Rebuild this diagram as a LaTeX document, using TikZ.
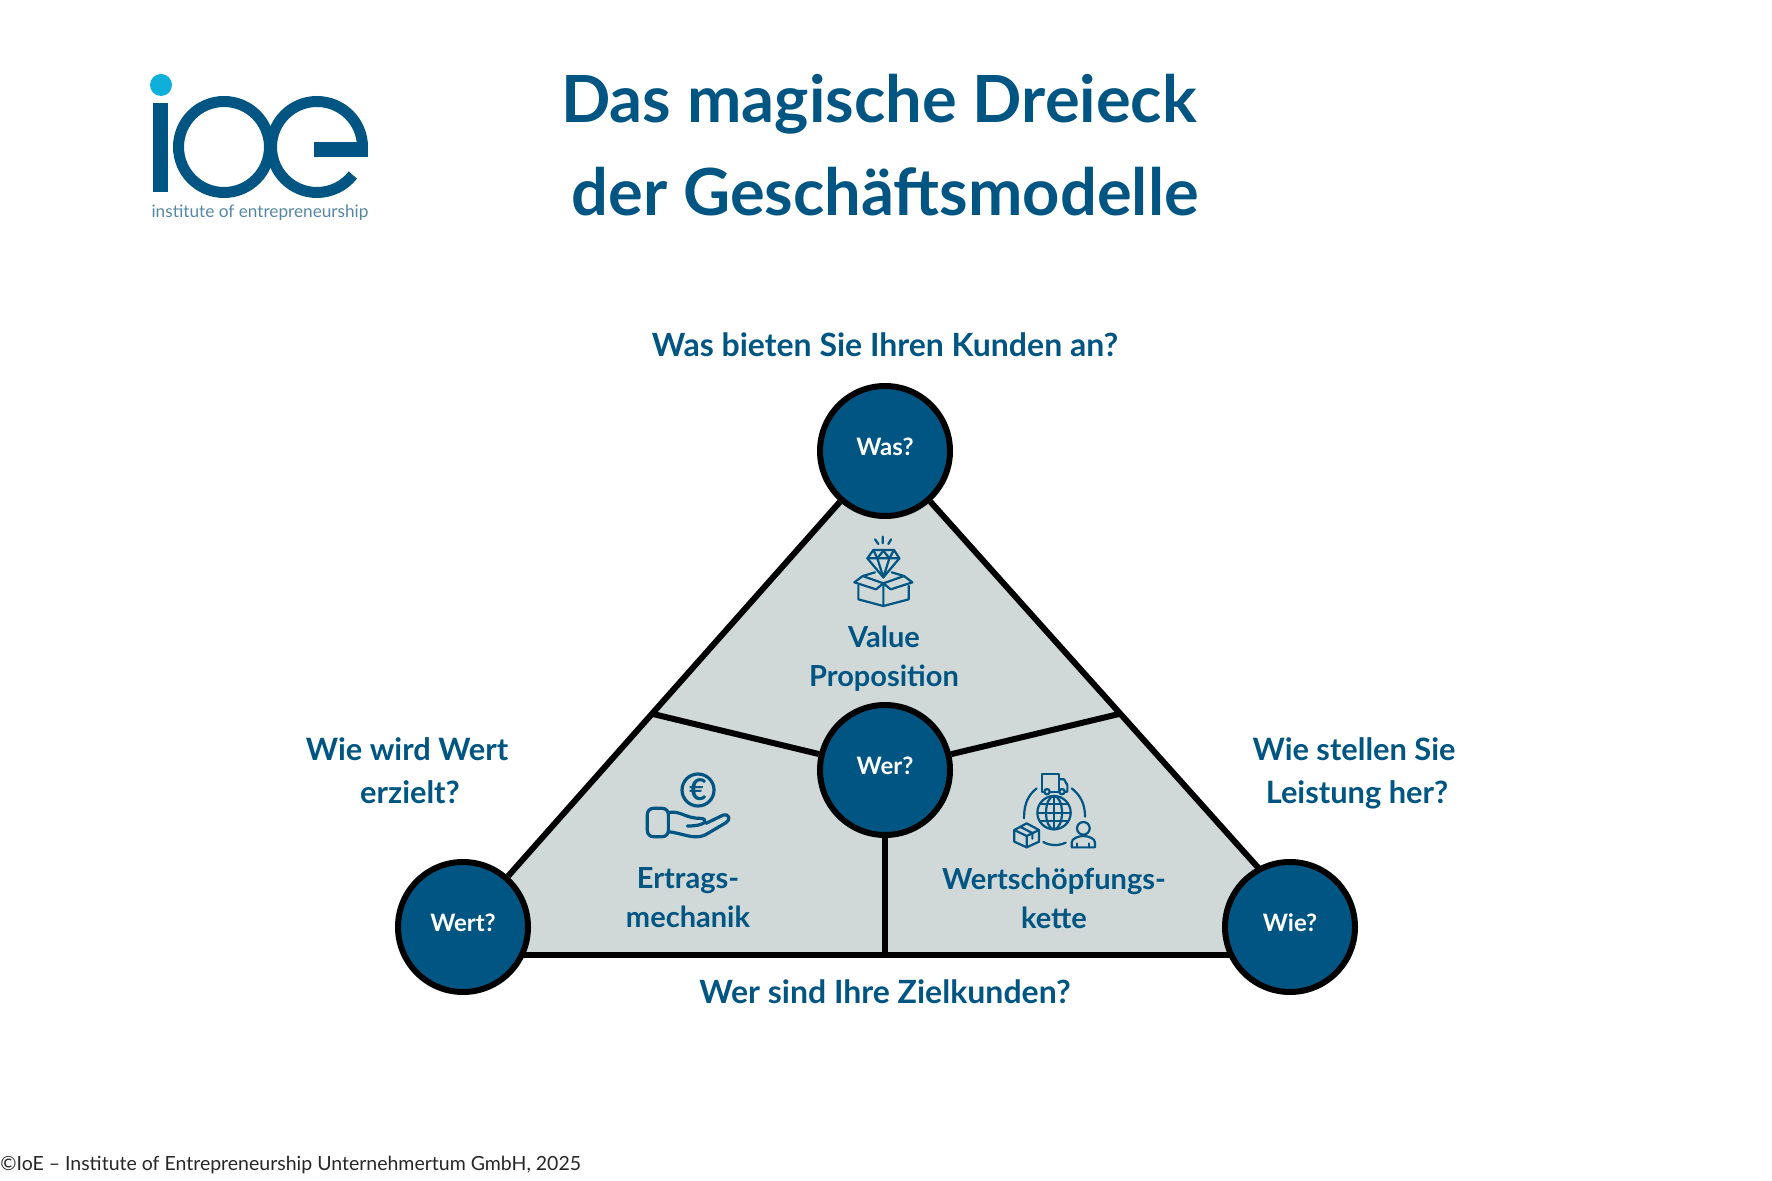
\documentclass[tikz,border=0pt]{standalone}
\usepackage{fontspec}
\setmainfont{Lato}
\usetikzlibrary{backgrounds}
\definecolor{ioeblue}{RGB}{0, 85, 130}
\definecolor{ioecyan}{RGB}{15, 175, 220}
\definecolor{ioegray}{RGB}{208, 216, 216}
\definecolor{ioelogotext}{RGB}{85, 135, 165}
\tikzset{
    titletext/.style={text=ioeblue, font=\fontsize{32.5}{33}\selectfont\bfseries},
    asktext/.style={text=ioeblue, font=\fontsize{16}{16}\selectfont\bfseries},
    sidetext/.style={text=ioeblue, font=\fontsize{15.4}{16}\selectfont\bfseries},
    fieldtext/.style={text=ioeblue, font=\fontsize{14.5}{15}\selectfont\bfseries},
    asknode/.style={circle, draw=black, line width=3pt, fill=ioeblue, minimum size=65pt, inner sep=0pt, text=white, text depth=4pt, font=\fontsize{12}{12}\selectfont\bfseries},
    edgeline/.style={draw=black, line width=3pt},
    iconline/.style={draw=ioeblue, line width=1.1pt, line join=round, line cap=round}
}
\begin{document}
\begin{tikzpicture}[x=0.5pt, y=-0.5pt]
    \useasboundingbox (0,0) rectangle (1772,1181);
    % logo
    \fill[ioecyan] (161,85) circle[radius=11];
    \fill[ioeblue] (153,103) rectangle (168,192);
    \draw[ioeblue, line width=5.5pt] (224,147) circle[radius=45.5];
    \draw[ioeblue, line width=5.5pt] (362.5,147) arc[start angle=0, end angle=-322, radius=45.5];
    \fill[ioeblue] (314,142) rectangle (368,157);
    \node[text=ioelogotext, font=\fontsize{8.6}{10}\selectfont, inner sep=0pt] (logotext) at (260,213) {institute of entrepreneurship};
    % title
    \node[titletext] (title1) at (879,104) {Das magische Dreieck};
    \node[titletext] (title2) at (885,192) {der Geschäftsmodelle};
    % questions
    \node[asktext] (fragewas) at (885,345) {Was bieten Sie Ihren Kunden an?};
    \node[sidetext] (fragewert1) at (407,749) {Wie wird Wert};
    \node[sidetext] (fragewert2) at (410,792) {erzielt?};
    \node[sidetext] (fragewie1) at (1354,749) {Wie stellen Sie};
    \node[sidetext] (fragewie2) at (1357,795) {Leistung her?};
    \node[asktext] (fragewer) at (885,992) {Wer sind Ihre Zielkunden?};
    % circles
    \node[asknode] (was) at (885,451) {Was?};
    \node[asknode] (wer) at (885,770) {Wer?};
    \node[asknode] (wert) at (463,927) {Wert?};
    \node[asknode] (wie) at (1290,927) {Wie?};
    \coordinate (baseL) at (480,955);
    \coordinate (baseR) at (1273,955);
    \coordinate (baseM) at (885,955);
    \coordinate (midL) at (653,714);
    \coordinate (midR) at (1119,714);
    \coordinate (sideR) at (1262,872);
    % triangle
    \begin{scope}[on background layer]
        \fill[ioegray] (was.center) -- (wert.center) -- (baseL) -- (baseR) -- (wie.center) -- (sideR) -- cycle;
        \draw[edgeline] (was) -- (wert);
        \draw[edgeline] (was) -- (sideR);
        \draw[edgeline] (baseL) -- (baseR);
        \draw[edgeline] (wer) -- (midL);
        \draw[edgeline] (wer) -- (midR);
        \draw[edgeline] (wer) -- (baseM);
    \end{scope}
    % fields
    \node[fieldtext] (value1) at (884,637) {Value};
    \node[fieldtext] (value2) at (884,678) {Proposition};
    \node[fieldtext] (ertrag1) at (688,881) {Ertrags-};
    \node[fieldtext] (ertrag2) at (688,917) {mechanik};
    \node[fieldtext] (kette1) at (1054,881) {Wertschöpfungs-};
    \node[fieldtext] (kette2) at (1054,918) {kette};
    % diamond in box
    \begin{scope}[shift={(820,520)}, x=0.1667pt, y=-0.1667pt, iconline]
        \draw (165,58) -- (175,72) (188,50) -- (188,70) (213,58) -- (205,72);
        \draw (160,90) -- (222,90) -- (238,115) -- (190,172) -- (142,115) -- cycle;
        \draw (142,115) -- (238,115) (160,90) -- (172,115) -- (190,172) -- (208,115) -- (222,90);
        \draw (172,115) -- (190,92) -- (208,115);
        \draw (115,197) -- (115,238) -- (190,258) -- (266,238) -- (266,197) (190,190) -- (190,258);
        \draw (190,190) -- (128,168) -- (103,187) -- (168,208) -- cycle;
        \draw (190,190) -- (252,168) -- (277,187) -- (212,208) -- cycle;
        \draw (128,168) -- (165,157) (252,168) -- (215,157);
    \end{scope}
    % hand with coin
    \begin{scope}[shift={(630,760)}, x=0.1667pt, y=-0.1667pt, iconline]
        \draw[line width=1.6pt] (204,90) circle[radius=48];
        \node[text=ioeblue, inner sep=0pt, font=\fontsize{15}{15}\selectfont\bfseries] (euro) at (204,90) {€};
        \draw[line width=1.6pt, rounded corners=3pt] (52,145) rectangle (115,230);
        \draw[line width=1.6pt] (115,158) .. controls (150,150) and (165,175) .. (210,175) .. controls (235,175) and (235,198) .. (172,198);
        \draw[line width=1.6pt] (228,190) -- (280,165) .. controls (296,160) and (304,178) .. (288,188) -- (225,225) .. controls (190,240) and (160,220) .. (115,215);
    \end{scope}
    % globe with truck, box and person
    \begin{scope}[shift={(1000,760)}, x=0.1667pt, y=-0.1667pt, iconline]
        \draw (131,95) -- (125,95) -- (125,42) -- (178,42) -- (178,95) -- (151,95);
        \draw (178,58) -- (192,58) -- (202,75) -- (202,95) -- (196,95);
        \draw (141,95) circle[radius=8] (186,95) circle[radius=8];
        \draw (162,158) circle[radius=50];
        \draw (162,158) ellipse[x radius=24, y radius=50];
        \draw (162,108) -- (162,208) (112,158) -- (212,158) (120,132) -- (204,132) (120,184) -- (204,184);
        \draw (110,85) .. controls (85,105) and (72,130) .. (72,175);
        \draw (215,85) .. controls (240,105) and (255,130) .. (255,170);
        \draw (130,246) .. controls (150,258) and (175,258) .. (197,248);
        \draw (80,190) -- (117,210) -- (117,245) -- (80,262) -- (43,245) -- (43,210) -- cycle;
        \draw (43,210) -- (80,228) -- (117,210) (80,228) -- (80,262);
        \draw (60,200) -- (97,219) -- (97,236);
        \draw (250,205) circle[radius=19];
        \draw (215,262) -- (215,248) .. controls (215,235) and (235,228) .. (250,228) .. controls (265,228) and (285,235) .. (285,248) -- (285,262) -- cycle;
        \draw (232,262) -- (232,250) (268,262) -- (268,250);
    \end{scope}
    % footer
    \node[anchor=west, inner sep=0pt, text=black!85, font=\fontsize{9.75}{10}\selectfont] (footer) at (0,1165) {©IoE – Institute of Entrepreneurship Unternehmertum GmbH, 2025};
\end{tikzpicture}
\end{document}
